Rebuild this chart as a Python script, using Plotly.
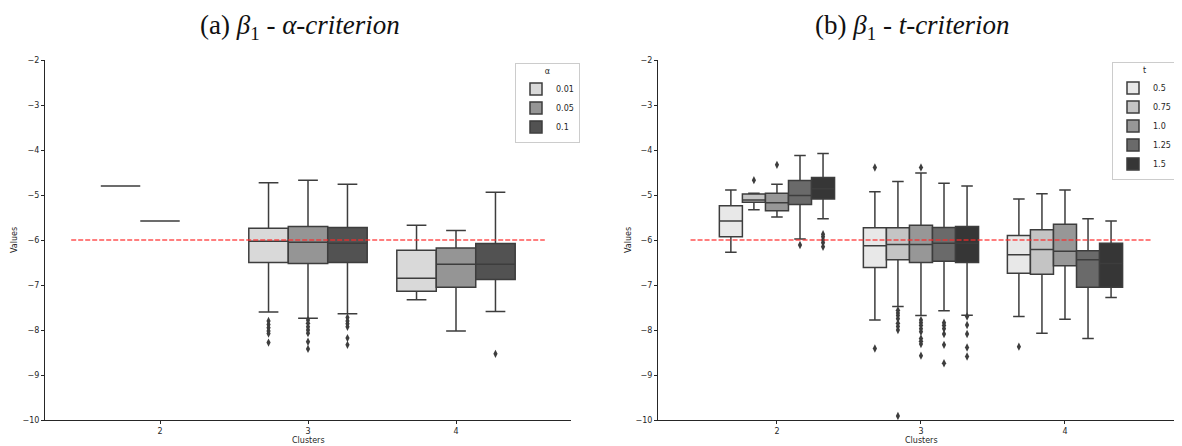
import plotly.graph_objects as go

clusters = ["2", "3", "4"]

# ---- (a) alpha-criterion ----
alpha_levels = ["0.01", "0.05", "0.1"]
alpha_colors = ["#d9d9d9", "#959595", "#525252"]
a_upper = [[-4.80, -4.73, -5.67], [-5.58, -4.67, -5.79], [None, -4.76, -4.94]]
a_q3 = [[-4.80, -5.74, -6.23], [-5.58, -5.70, -6.18], [None, -5.72, -6.08]]
a_med = [[-4.80, -6.03, -6.85], [-5.58, -6.05, -6.54], [None, -6.07, -6.54]]
a_q1 = [[-4.80, -6.50, -7.14], [-5.58, -6.52, -7.05], [None, -6.50, -6.88]]
a_lower = [[-4.80, -7.60, -7.33], [-5.58, -7.74, -8.02], [None, -7.64, -7.59]]
a_out = [
    [[], [-7.80, -7.88, -7.95, -8.02, -8.08, -8.28], []],
    [[], [-7.78, -7.85, -7.93, -8.00, -8.07, -8.26, -8.42], []],
    [[], [-7.72, -7.80, -7.86, -7.93, -8.18, -8.33], [-8.53]],
]

# ---- (b) t-criterion ----
t_levels = ["0.5", "0.75", "1.0", "1.25", "1.5"]
t_colors = ["#e8e8e8", "#c4c4c4", "#979797", "#6a6a6a", "#363636"]
t_upper = [[-4.89, -4.93, -5.09], [-4.96, -4.70, -4.97], [-4.76, -4.51, -4.89],
           [-4.12, -4.74, -5.53], [-4.08, -4.80, -5.58]]
t_q3 = [[-5.24, -5.73, -5.90], [-4.98, -5.73, -5.77], [-4.96, -5.67, -5.65],
        [-4.68, -5.72, -6.24], [-4.61, -5.70, -6.07]]
t_med = [[-5.58, -6.13, -6.33], [-5.11, -6.10, -6.21], [-5.17, -6.10, -6.25],
         [-5.01, -6.07, -6.44], [-4.86, -6.07, -6.52]]
t_q1 = [[-5.93, -6.61, -6.74], [-5.16, -6.44, -6.76], [-5.35, -6.50, -6.57],
        [-5.21, -6.47, -7.05], [-5.09, -6.50, -7.05]]
t_lower = [[-6.27, -7.78, -7.70], [-5.33, -7.48, -8.07], [-5.49, -7.68, -7.76],
           [-5.98, -7.57, -8.19], [-5.53, -7.67, -7.28]]
t_out = [
    [[], [-4.39, -8.41], [-8.37]],
    [[-4.67], [-7.56, -7.62, -7.68, -7.75, -7.85, -7.92, -8.00, -9.91], []],
    [[-4.33], [-4.39, -7.78, -7.84, -7.90, -7.97, -8.04, -8.19, -8.25, -8.31, -8.57], []],
    [[-6.11], [-7.84, -7.90, -7.97, -8.09, -8.33, -8.74], []],
    [[-5.87, -5.93, -6.00, -6.06, -6.15], [-7.70, -7.89, -8.09, -8.39, -8.59], []],
]

reference_value = -6.0
y_ticks = [-2, -3, -4, -5, -6, -7, -8, -9, -10]

EDGE = "#3d3d3d"
fig = go.Figure()


def add_panel(levels, colors, upper, q3, med, q1, lower, outs, xa, ya, leg):
    n = len(levels)
    w = 0.8 / n
    for k, lev in enumerate(levels):
        off = -0.4 + (k + 0.5) * w
        xs, lo, a, m, b, hi = [], [], [], [], [], []
        ox, oy = [], []
        for i in range(len(clusters)):
            if med[k][i] is None:
                continue
            xs.append(i + off)
            lo.append(lower[k][i]); a.append(q1[k][i]); m.append(med[k][i])
            b.append(q3[k][i]); hi.append(upper[k][i])
            for v in outs[k][i]:
                ox.append(i + off); oy.append(v)
        fig.add_trace(go.Box(
            x=xs, q1=a, median=m, q3=b, lowerfence=lo, upperfence=hi,
            width=w, whiskerwidth=0.5, fillcolor=colors[k],
            line=dict(color=EDGE, width=1.5), name=lev, boxpoints=False,
            xaxis=xa, yaxis=ya, legend=leg, hoverinfo="skip"))
        fig.add_trace(go.Scatter(
            x=ox, y=oy, mode="markers", showlegend=False, xaxis=xa, yaxis=ya,
            marker=dict(symbol="diamond-tall", size=6, color=EDGE), hoverinfo="skip"))


add_panel(alpha_levels, alpha_colors, a_upper, a_q3, a_med, a_q1, a_lower, a_out, "x", "y", "legend")
add_panel(t_levels, t_colors, t_upper, t_q3, t_med, t_q1, t_lower, t_out, "x2", "y2", "legend2")

# page body has an 8px margin: the figure is shifted by 8px in the window
OFF = 8
W, H = 1182 - OFF, 446 - OFF
TOP, BOT = 60 - OFF, 420 - OFF
PH = BOT - TOP


def px(x):
    return (x - OFF) / W


def py(y):
    return (BOT - (y - OFF)) / PH


axfont = dict(family="DejaVu Sans", size=8, color="#262626")
common_x = dict(tickmode="array", tickvals=[0, 1, 2], ticktext=clusters, showgrid=False,
                zeroline=False, showline=True, linecolor="#262626", linewidth=1,
                ticks="outside", ticklen=3, tickcolor="#262626", tickfont=axfont)
common_y = dict(range=[-10, -2], tickmode="array", tickvals=y_ticks, showgrid=False,
                zeroline=False, showline=True, linecolor="#262626", linewidth=1,
                ticks="outside", ticklen=3, tickcolor="#262626", tickfont=axfont)

legfont = dict(family="DejaVu Sans", size=8, color="#262626")
fig.update_layout(
    width=W, height=H, plot_bgcolor="white", paper_bgcolor="white",
    margin=dict(l=0, r=0, t=TOP, b=H - BOT, autoexpand=False),
    boxmode="overlay",
    xaxis=dict(domain=[px(45), px(571)], range=[-0.777, 2.777], anchor="y", **common_x),
    yaxis=dict(domain=[0, 1], anchor="x", **common_y),
    xaxis2=dict(domain=[px(658), 1.0], range=[-0.826, 2.8125], anchor="y2", **common_x),
    yaxis2=dict(domain=[0, 1], anchor="x2", **common_y),
    legend=dict(x=px(515), y=py(63), xanchor="left", yanchor="top",
                title=dict(text="α", side="top center", font=dict(size=8)),
                font=legfont, bordercolor="#cccccc", borderwidth=1, bgcolor="white",
                itemwidth=30, tracegroupgap=0),
    legend2=dict(x=px(1112), y=py(62), xanchor="left", yanchor="top",
                 title=dict(text="t", side="top center", font=dict(size=8)),
                 font=legfont, bordercolor="#cccccc", borderwidth=1, bgcolor="white",
                 itemwidth=30, tracegroupgap=0),
    showlegend=True,
)

for xr, yr in (("x", "y"), ("x2", "y2")):
    fig.add_shape(type="line", xref=xr, yref=yr, x0=-0.6, x1=2.6,
                  y0=reference_value, y1=reference_value,
                  line=dict(color="rgba(255,40,40,0.6)", width=1.8, dash="5px,2px"))

title_font = dict(family="Liberation Serif", size=27, color="#111111")
fig.add_annotation(x=px(300), y=py(9), xref="paper", yref="paper",
                   text="(a) <i>β</i><sub>1</sub> - <i>α-criterion</i>", borderpad=0,
                   showarrow=False, font=title_font, xanchor="center", yanchor="top")
fig.add_annotation(x=px(912), y=py(9), xref="paper", yref="paper",
                   text="(b) <i>β</i><sub>1</sub> - <i>t-criterion</i>", borderpad=0,
                   showarrow=False, font=title_font, xanchor="center", yanchor="top")

lab_font = dict(family="DejaVu Sans", size=8, color="#262626")
for xv in (14, 628):
    fig.add_annotation(x=px(xv), y=0.5, xref="paper", yref="paper", text="Values",
                       textangle=-90, showarrow=False, font=lab_font,
                       xanchor="center", yanchor="middle")
for xv in (308, 921):
    fig.add_annotation(x=px(xv), y=py(440), xref="paper", yref="paper",
                       text="Clusters", showarrow=False, font=lab_font,
                       xanchor="center", yanchor="middle")

fig.write_html("out.html")
